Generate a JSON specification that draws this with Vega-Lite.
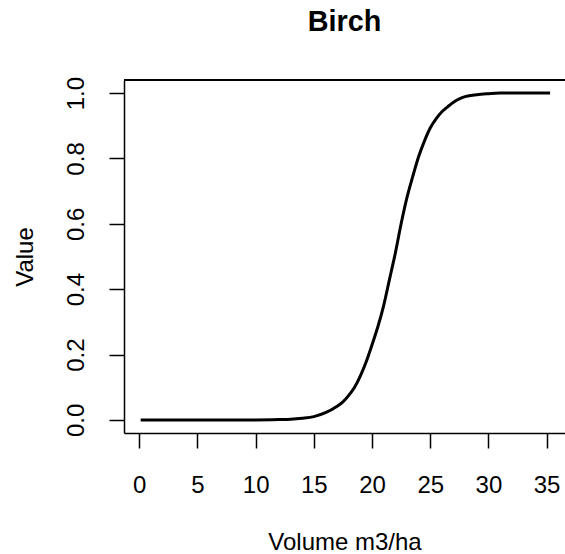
{
  "$schema": "https://vega.github.io/schema/vega-lite/v6.json",
  "autosize": "none",
  "width": 441,
  "height": 353,
  "padding": {"left": 124, "top": 80, "right": 0, "bottom": 121},
  "background": "white",
  "config": {
    "view": {"stroke": null},
    "font": "Liberation Sans",
    "axis": {"grid": false, "domainColor": "black", "tickColor": "black", "domainWidth": 1.5, "tickWidth": 1.5, "labelColor": "black", "titleColor": "black", "labelFont": "Liberation Sans", "titleFont": "Liberation Sans", "labelFontSize": 24, "titleFontSize": 24, "titleFontWeight": "normal", "tickSize": 15}
  },
  "title": {"text": "Birch", "font": "Liberation Sans", "fontSize": 28.8, "fontWeight": "bold", "color": "black", "anchor": "middle", "baseline": "alphabetic", "offset": 17},
  "data": {"values": [
    {"volume": 0.12, "value": 0},
    {"volume": 5, "value": 0},
    {"volume": 10, "value": 0},
    {"volume": 12, "value": 0.001},
    {"volume": 13, "value": 0.002},
    {"volume": 14, "value": 0.005},
    {"volume": 15, "value": 0.01},
    {"volume": 16, "value": 0.022},
    {"volume": 17, "value": 0.042},
    {"volume": 17.5, "value": 0.055},
    {"volume": 18, "value": 0.075},
    {"volume": 18.5, "value": 0.1},
    {"volume": 19, "value": 0.135},
    {"volume": 19.5, "value": 0.178},
    {"volume": 20, "value": 0.23},
    {"volume": 20.5, "value": 0.285},
    {"volume": 21, "value": 0.35},
    {"volume": 21.5, "value": 0.43},
    {"volume": 22, "value": 0.51},
    {"volume": 22.5, "value": 0.6},
    {"volume": 23, "value": 0.68},
    {"volume": 23.5, "value": 0.745},
    {"volume": 24, "value": 0.805},
    {"volume": 24.5, "value": 0.853},
    {"volume": 25, "value": 0.893},
    {"volume": 25.5, "value": 0.921},
    {"volume": 26, "value": 0.943},
    {"volume": 26.5, "value": 0.958},
    {"volume": 27, "value": 0.972},
    {"volume": 27.5, "value": 0.982},
    {"volume": 28, "value": 0.989},
    {"volume": 29, "value": 0.995},
    {"volume": 30, "value": 0.998},
    {"volume": 31, "value": 1.0},
    {"volume": 33, "value": 1.0},
    {"volume": 35.3, "value": 1.0}
  ]},
  "layer": [
    {
      "mark": {"type": "line", "color": "black", "strokeWidth": 3, "interpolate": "monotone"},
      "encoding": {
        "x": {"field": "volume", "type": "quantitative", "scale": {"domain": [-1.31, 36.58], "nice": false, "zero": false},
          "axis": {"values": [0, 5, 10, 15, 20, 25, 30, 35], "labelPadding": 25, "labelBaseline": "top", "title": "Volume m3/ha", "titleX": 220.5, "titleY": 116, "titleAlign": "center", "titleBaseline": "alphabetic", "labelFlush": false, "labelOverlap": false}},
        "y": {"field": "value", "type": "quantitative", "scale": {"domain": [-0.04, 1.04], "nice": false, "zero": false},
          "axis": {"values": [0, 0.2, 0.4, 0.6, 0.8, 1.0], "format": ".1f", "labelAngle": -90, "labelAlign": "center", "labelBaseline": "alphabetic", "labelPadding": 25.5, "title": "Value", "titleX": -92, "titleY": 176.5, "titleAngle": -90, "titleAlign": "center", "titleBaseline": "alphabetic", "labelFlush": false, "labelOverlap": false}}
      }
    },
    {
      "mark": {"type": "rule", "color": "black", "strokeWidth": 1.5},
      "encoding": {"y": {"datum": 1.04}}
    }
  ]
}
